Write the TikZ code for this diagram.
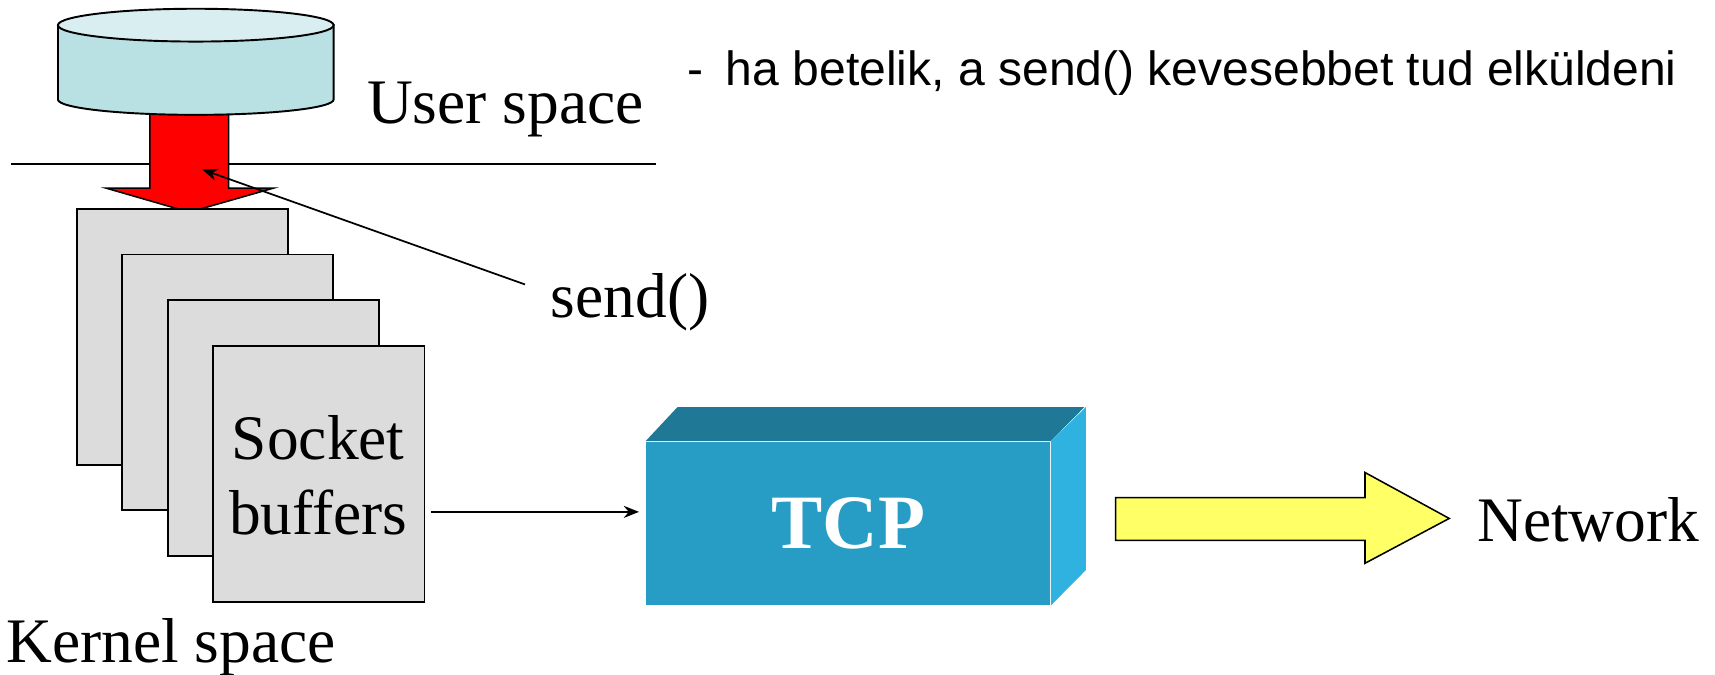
\documentclass[tikz,border=0pt]{standalone}
\usepackage{fontspec}
\setmainfont{Liberation Serif}
\newfontfamily\notefont{Liberation Sans}
\usetikzlibrary{arrows.meta}
\definecolor{cylbody}{HTML}{B9E0E3}
\definecolor{cyltop}{HTML}{D8EEF0}
\definecolor{bufgray}{HTML}{DCDCDC}
\definecolor{tcpfront}{HTML}{279CC4}
\definecolor{tcptop}{HTML}{1F7896}
\definecolor{tcpside}{HTML}{2FB2E0}
\definecolor{netyellow}{HTML}{FFFF66}

\begin{document}
\begin{tikzpicture}[x=0.1mm,y=-0.1mm,
    buffer/.style={draw,line width=0.5pt,fill=bufgray,minimum width=19.3mm,minimum height=23.4mm,inner sep=0pt},
    lbl/.style={anchor=base west,inner sep=0pt,font=\fontsize{16.5}{19.5}\selectfont},
    ptr/.style={line width=0.45pt,-{Stealth[length=1.4mm,width=1.1mm]}}]
		\useasboundingbox (0,0) rectangle (1568,617);
		\draw[line width=0.5pt] (10,150) -- (600,150);
		\filldraw[fill=red,line width=0.4pt] (137,95) -- (209,95) -- (209,172) -- (250,172) -- (173,194) -- (97,172) -- (137,172) -- cycle;
		\coordinate (hit) at (185,155);
		\filldraw[fill=cylbody,line width=0.5pt] (53,23) -- (53,91) arc[start angle=180,end angle=360,x radius=12.6mm,y radius=1.4mm] -- (305,23) -- cycle;
		\filldraw[fill=cyltop,line width=0.5pt] (179,23) ellipse[x radius=12.6mm,y radius=1.5mm];
		\node[lbl] (user) at (335,113) {User space};
		\node[lbl,font=\notefont\fontsize{12.5}{15}\selectfont] (dash) at (628,78) {-};
		\node[lbl,font=\notefont\fontsize{12.5}{15}\selectfont] (note) at (663,78) {ha betelik, a send() kevesebbet tud elküldeni};
		\foreach \i in {0,...,3}
			\node[buffer] (buf\i) at ({166.5+41.7*\i},{308+41.7*\i}) {};
		\node[lbl,anchor=base] (sock) at (291,420) {Socket};
		\node[lbl,anchor=base] (buff) at (291,489) {buffers};
		\node[lbl] (kernel) at (5,606) {Kernel space};
		\node[lbl] (sendtxt) at (503,290) {send()};
		\draw[ptr] ([shift={(-2.3mm,-1.1mm)}]sendtxt.north west) -- (hit);
		\node[draw=none,fill=tcpfront,minimum width=36.9mm,minimum height=14.9mm,inner sep=0pt,text=white,font=\bfseries\fontsize{20}{24}\selectfont] (tcp) at (775.5,478.5) {TCP};
		\fill[tcptop] (tcp.north west) -- ++(29,-31) -- ++(372,0) -- (tcp.north east) -- cycle;
		\fill[tcpside] (tcp.north east) -- ++(32,-31) -- ++(0,149) -- (tcp.south east) -- cycle;
		\draw[ptr,shorten <=0.5mm,shorten >=0.6mm] (buf3.east |- 0,468) -- (tcp.west |- 0,468);
		\filldraw[fill=netyellow,line width=0.4pt] (1020,455) -- (1248,455) -- (1248,432) -- (1325,474) -- (1248,515) -- (1248,494) -- (1020,494) -- cycle;
		\node[lbl] (net) at (1350,495) {Network};
	\end{tikzpicture}
\end{document}
